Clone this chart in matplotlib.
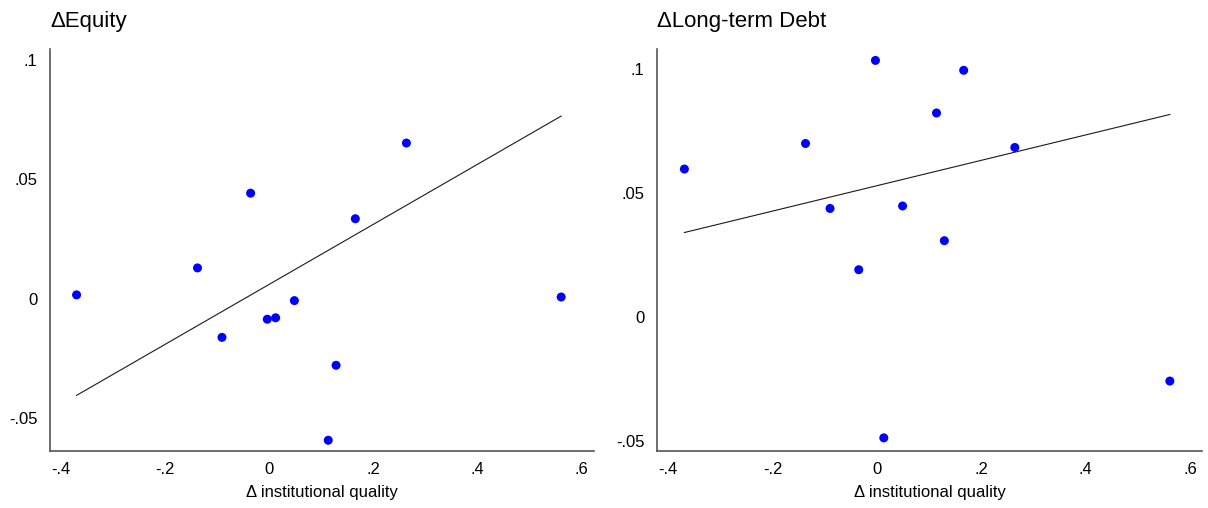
import numpy as np
import matplotlib
matplotlib.use("Agg")
import matplotlib.pyplot as plt

plt.rcParams['font.family'] = ['Liberation Sans', 'DejaVu Sans']

# Data
inst_quality = [-0.369, -0.137, -0.090, -0.035, -0.003, 0.013, 0.049, 0.114, 0.129, 0.166, 0.264, 0.561]
d_equity = [0.0016, 0.0129, -0.0162, 0.0442, -0.0086, -0.0080, -0.0008, -0.0593, -0.0279, 0.0335, 0.0652, 0.0007]
d_ltdebt = [0.0597, 0.0700, 0.0438, 0.0191, 0.1035, -0.0487, 0.0448, 0.0823, 0.0308, 0.0995, 0.0684, -0.0258]

# Fitted-line values (as shown) at the min and max of inst_quality
fit_x = [-0.369, 0.561]
fit_equity = [-0.0405, 0.0765]
fit_ltdebt = [0.0341, 0.0817]

titles = ["\u0394Equity", "\u0394Long-term Debt"]
xlabel = "\u0394 institutional quality"
xticks = [-0.4, -0.2, 0, 0.2, 0.4, 0.6]
xticklabels = ["-.4", "-.2", "0", ".2", ".4", ".6"]
yticks = [-0.05, 0, 0.05, 0.1]
yticklabels = ["-.05", "0", ".05", ".1"]

W, H = 1208, 508
fig = plt.figure(figsize=(W / 100, H / 100), dpi=100)
fig.patch.set_facecolor("white")

panels = [
    dict(rect=[50 / W, 1 - 451 / H, 544 / W, 402 / H], y=d_equity, fit=fit_equity,
         xlim=(-0.420, 0.624), ylim=(-0.0638, 0.1046)),
    dict(rect=[657 / W, 1 - 451 / H, 545 / W, 402 / H], y=d_ltdebt, fit=fit_ltdebt,
         xlim=(-0.4215, 0.6226), ylim=(-0.0540, 0.1081)),
]

for p, title in zip(panels, titles):
    ax = fig.add_axes(p["rect"])
    ax.scatter(inst_quality, p["y"], s=42, color="#0000ff", edgecolors="none", zorder=3)
    ax.plot(fit_x, p["fit"], color="#1a1a1a", lw=0.8, zorder=2)
    ax.set_xlim(*p["xlim"])
    ax.set_ylim(*p["ylim"])
    ax.set_xticks(xticks)
    ax.set_xticklabels(xticklabels)
    ax.set_yticks(yticks)
    ax.set_yticklabels(yticklabels)
    ax.tick_params(axis="both", length=0, labelsize=12, colors="black")
    ax.tick_params(axis="x", pad=8)
    ax.tick_params(axis="y", pad=9)
    for s in ["top", "right"]:
        ax.spines[s].set_visible(False)
    for s in ["left", "bottom"]:
        ax.spines[s].set_color("#555555")
        ax.spines[s].set_linewidth(1.2)
    ax.set_xlabel(xlabel, fontsize=12, labelpad=6)
    ax.set_title(title, fontsize=16, loc="left", x=0.0, pad=16)

fig.savefig("out.png", dpi=100, facecolor="white")
